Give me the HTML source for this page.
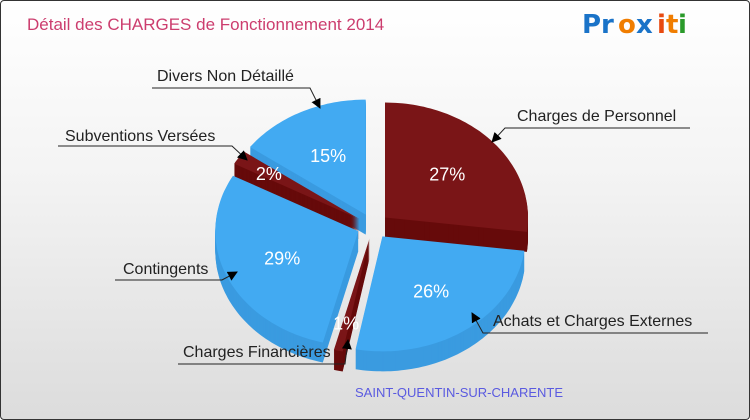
<!DOCTYPE html>
<html><head><meta charset="utf-8">
<style>
body{margin:0;width:750px;height:420px;overflow:hidden;font-family:"Liberation Sans",sans-serif;}
#wrap{position:absolute;left:0;top:0;width:748px;height:418px;border:1px solid #333;border-radius:4px;background:linear-gradient(#ffffff 0%,#f4f4f4 40%,#dcdcdc 100%);}
</style></head><body>
<div id="wrap">
<svg id="svg" width="750" height="420" style="position:absolute;left:-1px;top:-1px">
<defs><marker id="arr" markerWidth="10" markerHeight="10" refX="9" refY="5" orient="auto" markerUnits="userSpaceOnUse"><path d="M0,0 L10,5 L0,10 z" fill="#000"/></marker></defs>
<text x="27" y="30" font-size="17" fill="#cc3d6e">Détail des CHARGES de Fonctionnement 2014</text>
<g font-size="26" font-family="'DejaVu Sans',sans-serif" font-weight="bold">
<text x="582" y="33" fill="#1a73c8">Pr</text><text x="618" y="33" fill="#f07d00">o</text><text x="636" y="33" fill="#1a73c8">x</text><text x="657" y="33" fill="#e84a10">i</text><text x="666" y="33" fill="#f07d00">t</text><text x="678" y="33" fill="#2a9a2a">i</text>
</g>
<text x="355" y="397" font-size="13" fill="#5a5ae0">SAINT-QUENTIN-SUR-CHARENTE</text>
<g id="pie"></g>
<g id="labels"></g>
</svg>
</div>
<script>
const categories=["Charges de Personnel","Achats et Charges Externes","Charges Financières","Contingents","Subventions Versées","Divers Non Détaillé"];
const values=[27,26,1,29,2,15];
const colorsTop=["#7a1517","#42aaf2","#7a1517","#42aaf2","#7a1517","#42aaf2"];
const colorsSide=["#660a0a","#3a9be0","#660a0a","#3a9be0","#660a0a","#3a9be0"];
const labelLayout=[
 {tx:517,ty:121,ux1:505,ux2:690,uy:128,tip:[492,142]},
 {tx:493,ty:326,ux1:483,ux2:708,uy:333,tip:[472,313]},
 {tx:183,ty:357,ux1:178,ux2:345,uy:364,tip:[348,340]},
 {tx:123,ty:274,ux1:115,ux2:222,uy:280,tip:[237,272]},
 {tx:65,ty:141,ux1:58,ux2:232,uy:146,tip:[247,160]},
 {tx:157,ty:81,ux1:152,ux2:310,uy:88,tip:[320,108]}
];
const NS="http://www.w3.org/2000/svg";
const cx=373,cy=226,rx=143,ry=115,depth=20,ex=16;
const total=values.reduce((a,b)=>a+b,0);
const pie=document.getElementById('pie');
function pt(th,r,ox,oy){return [cx+ox+r*rx*Math.sin(th),cy+oy-r*ry*Math.cos(th)];}
let a=0;const slices=[];
values.forEach((v,i)=>{const s=a/total*2*Math.PI;a+=v;const e=a/total*2*Math.PI;slices.push({i,s,e,m:(s+e)/2});});
function pathFor(sl,dy){const ox=ex*Math.sin(sl.m),oy=-ex*Math.cos(sl.m)*0.8+dy;
 let d=`M${cx+ox},${cy+oy}`;const n=Math.max(2,Math.ceil((sl.e-sl.s)*40));
 for(let k=0;k<=n;k++){const t=sl.s+(sl.e-sl.s)*k/n;const p=pt(t,1,ox,oy);d+=` L${p[0].toFixed(1)},${p[1].toFixed(1)}`;}
 return d+'Z';}
const order=slices.slice().sort((p,q)=>(-Math.cos(p.m))-(-Math.cos(q.m)));
order.forEach(sl=>{
 const g=document.createElementNS(NS,'g');
 
 
 for(let d=depth;d>=1;d--){const p=document.createElementNS(NS,'path');p.setAttribute('d',pathFor(sl,d));p.setAttribute('fill',colorsSide[sl.i]);g.appendChild(p);}
 const top=document.createElementNS(NS,'path');top.setAttribute('d',pathFor(sl,0));top.setAttribute('fill',colorsTop[sl.i]);g.appendChild(top);
 const ox=ex*Math.sin(sl.m),oy=-ex*Math.cos(sl.m)*0.8;
 const lp=pt(sl.m,(sl.e-sl.s)<0.2?0.75:0.58,ox,oy);
 const t=document.createElementNS(NS,'text');t.setAttribute('x',lp[0]);t.setAttribute('y',lp[1]+7);t.setAttribute('text-anchor','middle');t.setAttribute('font-size','18');t.setAttribute('fill','#fff');
 
 
 t.textContent=values[sl.i]+'%';g.appendChild(t);
 pie.appendChild(g);
});
const lg=document.getElementById('labels');
categories.forEach((c,i)=>{const L=labelLayout[i];
 const t=document.createElementNS(NS,'text');t.setAttribute('x',L.tx);t.setAttribute('y',L.ty);t.setAttribute('font-size','16');t.setAttribute('fill','#222');t.textContent=c;
 
 
 lg.appendChild(t);
 const near=(L.tip[0]>L.ux2)?L.ux2:L.ux1;
 const pl=document.createElementNS(NS,'polyline');
 const far=near===L.ux2?L.ux1:L.ux2;
 pl.setAttribute('points',`${far},${L.uy} ${near},${L.uy} ${L.tip[0]},${L.tip[1]}`);
 pl.setAttribute('fill','none');pl.setAttribute('stroke','#222');pl.setAttribute('stroke-width','1');pl.setAttribute('marker-end','url(#arr)');
 
 
 lg.appendChild(pl);
});
</script>
</body></html>
